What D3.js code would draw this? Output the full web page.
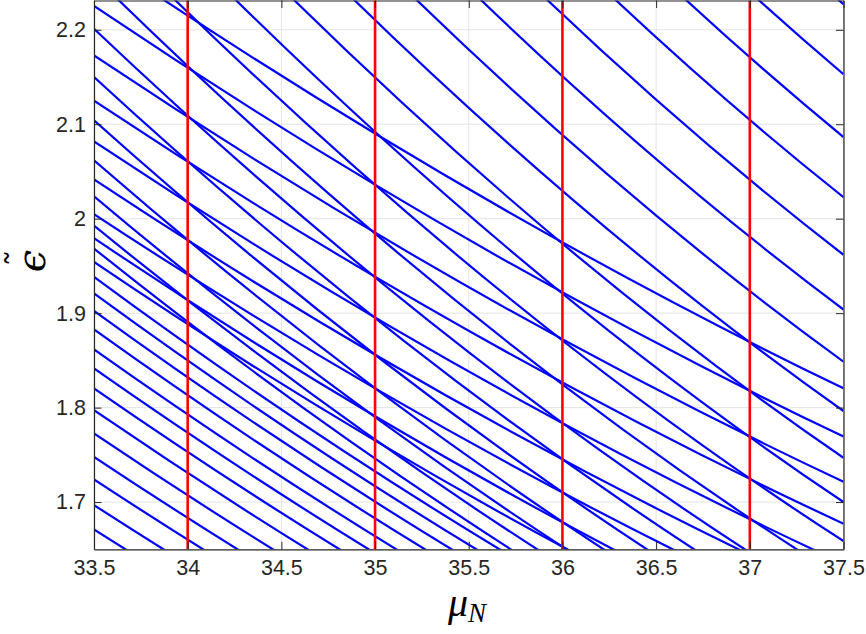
<!DOCTYPE html>
<html><head><meta charset="utf-8">
<script src="https://cdn.jsdelivr.net/npm/d3@7"></script>
<style>
body{margin:0;background:#fff;}
svg{display:block;}
</style></head>
<body>
<svg id="c" width="866" height="634"></svg>
<script>
// ---- data ----
// every curve is given by its value of epsilon at three mu positions
const knotsMu = [33.5, 35.5, 37.5];
// shallow family (crossing the steep family on the integer lines)
const familyA = [
  [2.2811, 2.0313, 1.8204],
  [2.2252, 1.9777, 1.7693],
  [2.1728, 1.9275, 1.7215],
  [2.1250, 1.8813, 1.6771],
  [2.0818, 1.8382, 1.6348],
  [2.0415, 1.7993, 1.5976],
  [2.0048, 1.7640, 1.5638],
  [1.9793, 1.7334, 1.5301],
  [1.9542, 1.7075, 1.5051]
];
// steep family
const familyB = [
  [3.1238, 2.6250, 2.2270],
  [3.0199, 2.5377, 2.1530],
  [2.9266, 2.4593, 2.0864],
  [2.8372, 2.3842, 2.0227],
  [2.7518, 2.3124, 1.9618],
  [2.6704, 2.2440, 1.9038],
  [2.5930, 2.1790, 1.8486],
  [2.5196, 2.1173, 1.7963],
  [2.4502, 2.0590, 1.7468],
  [2.3846, 2.0039, 1.7000],
  [2.3169, 1.9511, 1.6587],
  [2.2569, 1.9022, 1.6185],
  [2.2011, 1.8586, 1.5844],
  [2.1500, 1.8179, 1.5518],
  [2.1041, 1.7811, 1.5221],
  [2.0618, 1.7478, 1.4957],
  [2.0238, 1.7195, 1.4747],
  [1.9926, 1.6977, 1.4600],
  [1.9684, 1.6790, 1.4460]
];
// lower-left family of nearly parallel curves
const familyLower = [
  [1.9383, 1.6699, 1.4506],
  [1.9208, 1.6549, 1.4375],
  [1.9024, 1.6390, 1.4237],
  [1.8827, 1.6220, 1.4090],
  [1.8615, 1.6038, 1.3931],
  [1.8414, 1.5865, 1.3781],
  [1.8203, 1.5683, 1.3622],
  [1.7973, 1.5485, 1.3450],
  [1.7727, 1.5273, 1.3266],
  [1.7479, 1.5059, 1.3081],
  [1.7240, 1.4853, 1.2902],
  [1.6968, 1.4619, 1.2698],
  [1.6711, 1.4397, 1.2506]
];
const redLines = [34, 35, 36, 37];
const xTicks = [33.5, 34, 34.5, 35, 35.5, 36, 36.5, 37, 37.5];
const xTickLabels = ["33.5", "34", "34.5", "35", "35.5", "36", "36.5", "37", "37.5"];
const yTicks = [1.7, 1.8, 1.9, 2.0, 2.1, 2.2];
const yTickLabels = ["1.7", "1.8", "1.9", "2", "2.1", "2.2"];
const xDomain = [33.5, 37.5];
const yDomain = [1.65, 2.231];

// ---- drawing ----
const svg = d3.select('#c');
const x = d3.scaleLinear().domain(xDomain).range([94, 843.5]);
const y = d3.scaleLinear().domain(yDomain).range([549.3, 0.5]);
const [x0, x1] = x.range();
const [yb, yt] = y.range();

svg.append('defs').append('clipPath').attr('id', 'clip')
  .append('rect').attr('x', x0).attr('y', yt).attr('width', x1 - x0).attr('height', yb - yt);

// grid
const grid = svg.append('g').attr('stroke', '#e4e4e4').attr('stroke-width', 1);
grid.selectAll('line.gx').data(xTicks).enter().append('line')
  .attr('x1', d => x(d)).attr('x2', d => x(d)).attr('y1', yb).attr('y2', yt);
grid.selectAll('line.gy').data(yTicks).enter().append('line')
  .attr('x1', x0).attr('x2', x1).attr('y1', d => y(d)).attr('y2', d => y(d));

// curves
function curvePath(vals) {
  const p = vals.map((v, i) => [x(knotsMu[i]), y(v)]);
  const c = [2 * p[1][0] - (p[0][0] + p[2][0]) / 2, 2 * p[1][1] - (p[0][1] + p[2][1]) / 2];
  const path = d3.path();
  path.moveTo(p[0][0], p[0][1]);
  path.quadraticCurveTo(c[0], c[1], p[2][0], p[2][1]);
  return path.toString();
}
const plot = svg.append('g').attr('clip-path', 'url(#clip)');
const allCurves = familyA.concat(familyB, familyLower);
plot.selectAll('path.curve').data(allCurves).enter().append('path')
  .attr('class', 'curve')
  .attr('d', curvePath)
  .attr('fill', 'none').attr('stroke', '#0000ff').attr('stroke-width', 2.2);

plot.selectAll('line.red').data(redLines).enter().append('line')
  .attr('x1', d => x(d)).attr('x2', d => x(d)).attr('y1', yb).attr('y2', yt)
  .attr('stroke', '#ff0000').attr('stroke-width', 2.6);

// axes (box with inward ticks on all sides)
const axisColor = '#262626';
const fontFam = '"Liberation Sans", Arial, Helvetica, sans-serif';
const ax = svg.append('g');
const xb = d3.axisBottom(x).tickValues(xTicks).tickFormat((d, i) => xTickLabels[i]).tickSizeInner(-7.5).tickSizeOuter(0).tickPadding(10);
const xtA = d3.axisTop(x).tickValues(xTicks).tickFormat('').tickSizeInner(-7.5).tickSizeOuter(0);
const yl = d3.axisLeft(y).tickValues(yTicks).tickFormat((d, i) => yTickLabels[i]).tickSizeInner(-7.5).tickSizeOuter(0).tickPadding(8);
const yr = d3.axisRight(y).tickValues(yTicks).tickFormat('').tickSizeInner(-7.5).tickSizeOuter(0);
[[xb, `translate(0,${yb})`], [xtA, `translate(0,${yt})`], [yl, `translate(${x0},0)`], [yr, `translate(${x1},0)`]].forEach(([a, t]) => {
  const gg = ax.append('g').attr('transform', t).call(a);
  gg.select('.domain').attr('stroke', axisColor).attr('stroke-width', 1.2);
  gg.selectAll('.tick line').attr('stroke', axisColor).attr('stroke-width', 1);
  gg.selectAll('.tick text').attr('fill', axisColor).style('font-family', fontFam).style('font-size', '21.5px');
});

// axis labels
const serif = '"DejaVu Serif", "Liberation Serif", serif';
svg.append('text').attr('x', 467).attr('y', 616).attr('text-anchor', 'middle')
  .style('font-family', '"Liberation Serif", "Times New Roman", serif').style('font-style', 'italic').attr('fill', '#000')
  .html('<tspan style="font-size:40px">μ</tspan><tspan dy="6" style="font-size:27px">N</tspan>');
const yLab = svg.append('g').attr('transform', 'translate(45,261) rotate(-90)');
yLab.append('text').attr('x', 0).attr('y', 0).attr('text-anchor', 'middle')
  .style('font-family', serif).style('font-style', 'italic').style('font-size', '40px').attr('fill', '#000')
  .text('ϵ');
yLab.append('text').attr('x', 3).attr('y', -14).attr('text-anchor', 'middle')
  .style('font-family', serif).style('font-size', '34px').attr('fill', '#000')
  .text('˜');
</script>
</body></html>
